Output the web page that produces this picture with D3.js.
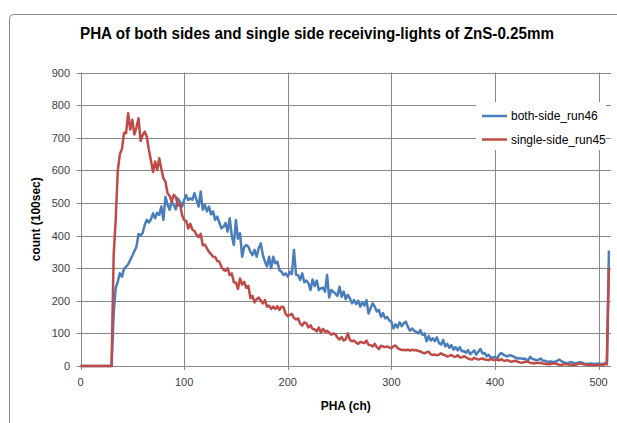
<!DOCTYPE html>
<html>
<head>
<meta charset="utf-8">
<script src="https://cdn.jsdelivr.net/npm/d3@7"></script>
<style>
  body { margin: 0; background: #fff; }
  text { font-family: "Liberation Sans", Arial, sans-serif; }
</style>
</head>
<body>
<svg id="chart" width="617" height="423"></svg>
<script>
// PHA channels (every 2nd channel)
const channels = d3.range(0, 512, 2);

const bothSide = [
    0, 0, 0, 0, 0, 0, 0, 0, 0, 0, 0, 0, 0, 0, 0, 0,
    160, 240, 259, 284, 274, 298, 305, 312, 325, 338, 352, 366, 405, 400, 408, 433,
    448, 440, 450, 468, 453, 470, 463, 489, 448, 519, 495, 479, 504, 494, 480, 514,
    504, 489, 509, 524, 509, 514, 510, 530, 509, 489, 535, 479, 494, 474, 489, 465,
    474, 448, 458, 440, 422, 427, 438, 412, 453, 400, 371, 448, 390, 407, 335, 365,
    371, 366, 350, 340, 356, 335, 361, 376, 340, 320, 305, 335, 300, 335, 315, 320,
    294, 289, 279, 284, 274, 289, 282, 356, 280, 278, 264, 284, 257, 262, 254, 233,
    265, 245, 262, 233, 238, 240, 228, 279, 210, 233, 228, 222, 215, 243, 212, 228,
    205, 218, 207, 192, 202, 190, 200, 182, 195, 185, 202, 161, 177, 192, 182, 167,
    172, 151, 162, 146, 150, 140, 136, 115, 128, 118, 134, 122, 131, 136, 120, 108,
    115, 108, 105, 100, 110, 95, 100, 76, 92, 78, 85, 76, 88, 70, 66, 80,
    60, 68, 56, 64, 50, 58, 48, 58, 45, 46, 40, 49, 36, 42, 48, 35,
    44, 52, 38, 40, 30, 34, 26, 26, 28, 22, 34, 40, 35, 32, 29, 33,
    32, 29, 26, 23, 24, 22, 23, 20, 18, 28, 22, 20, 18, 19, 23, 17,
    16, 14, 13, 14, 12, 13, 16, 20, 15, 12, 10, 8, 11, 12, 9, 8,
    10, 12, 10, 8, 7, 6, 8, 7, 6, 7, 8, 6, 6, 9, 8, 354
];

const singleSide = [
    0, 0, 0, 0, 0, 0, 0, 0, 0, 0, 0, 0, 0, 0, 0, 0,
    340, 450, 600, 650, 665, 715, 714, 775, 725, 755, 710, 732, 760, 690, 708, 719,
    703, 663, 630, 595, 627, 601, 637, 605, 576, 565, 530, 522, 504, 525, 518, 492,
    499, 463, 448, 445, 422, 436, 418, 414, 402, 395, 405, 370, 372, 361, 350, 343,
    335, 334, 322, 320, 304, 295, 292, 300, 279, 284, 257, 256, 236, 268, 250, 258,
    240, 246, 208, 215, 195, 205, 210, 200, 192, 202, 182, 185, 175, 182, 175, 183,
    172, 182, 180, 160, 153, 157, 160, 147, 143, 146, 130, 124, 134, 131, 118, 125,
    114, 112, 106, 118, 103, 114, 105, 108, 102, 96, 100, 97, 87, 81, 89, 78,
    82, 100, 80, 76, 78, 72, 68, 74, 72, 70, 78, 65, 64, 60, 68, 58,
    52, 62, 60, 58, 60, 57, 54, 60, 63, 55, 52, 49, 50, 48, 50, 47,
    50, 48, 49, 46, 45, 41, 39, 42, 44, 36, 34, 35, 33, 35, 39, 35,
    33, 29, 31, 34, 29, 28, 33, 27, 26, 30, 27, 23, 21, 20, 25, 22,
    20, 22, 23, 20, 19, 18, 22, 19, 18, 20, 17, 21, 17, 16, 18, 15,
    13, 15, 16, 13, 11, 10, 12, 13, 13, 10, 9, 8, 10, 9, 10, 8,
    7, 6, 5, 7, 8, 8, 6, 4, 3, 5, 6, 5, 4, 4, 3, 4,
    6, 8, 7, 5, 4, 4, 3, 3, 2, 3, 4, 4, 3, 5, 5, 300
];

const seriesNames = ['both-side_run46', 'single-side_run45'];
const seriesColors = ['#4a7ebb', '#be4b48'];
const xTicks = [0, 100, 200, 300, 400, 500];
const yTicks = [0, 100, 200, 300, 400, 500, 600, 700, 800, 900];

const svg = d3.select('#chart');
const plotL = 80.5, plotR = 611, plotT = 72.5, plotB = 366;

// outer chart frame (only top/left edges are inside the picture)
svg.append('rect')
    .attr('x', 9.5).attr('y', 14.5).attr('width', 640).attr('height', 430)
    .attr('rx', 4)
    .attr('fill', 'none').attr('stroke', '#868686');

const scX = d3.scaleLinear().domain([0, 512]).range([plotL, plotR]);
const scY = d3.scaleLinear().domain([0, 900]).range([plotB, plotT]);

// gridlines
svg.append('g')
    .selectAll('line')
    .data(yTicks)
    .enter()
    .append('line')
    .attr('x1', plotL - 4).attr('x2', plotR)
    .attr('y1', d => Math.round(scY(d)) + 0.5).attr('y2', d => Math.round(scY(d)) + 0.5)
    .attr('stroke', '#888');

svg.append('g')
    .selectAll('line')
    .data(xTicks)
    .enter()
    .append('line')
    .attr('x1', d => Math.round(scX(d)) + 0.5).attr('x2', d => Math.round(scX(d)) + 0.5)
    .attr('y1', plotT).attr('y2', plotB + 4)
    .attr('stroke', '#888');

// tick labels
svg.append('g')
    .selectAll('text')
    .data(yTicks)
    .enter()
    .append('text')
    .attr('x', 70).attr('y', d => scY(d) + 4)
    .attr('text-anchor', 'end')
    .attr('font-size', 11).attr('fill', '#404040')
    .text(d => d);

svg.append('g')
    .selectAll('text')
    .data(xTicks)
    .enter()
    .append('text')
    .attr('x', d => scX(d)).attr('y', 386)
    .attr('text-anchor', 'middle')
    .attr('font-size', 11).attr('fill', '#404040')
    .text(d => d);

// axis titles
svg.append('text')
    .attr('x', (plotL + plotR) / 2).attr('y', 410)
    .attr('text-anchor', 'middle')
    .attr('font-size', 12).attr('font-weight', 'bold').attr('fill', '#000')
    .text('PHA (ch)');

svg.append('text')
    .attr('transform', `translate(40,${(plotT + plotB) / 2}) rotate(-90)`)
    .attr('text-anchor', 'middle')
    .attr('font-size', 12).attr('font-weight', 'bold').attr('fill', '#000')
    .text('count (100sec)');

svg.append('text')
    .attr('x', 317).attr('y', 39)
    .attr('text-anchor', 'middle')
    .attr('font-family', 'Lato, "Open Sans", sans-serif')
    .attr('font-size', 16).attr('font-weight', 'bold').attr('fill', '#000')
    .attr('textLength', 474).attr('lengthAdjust', 'spacingAndGlyphs')
    .text('PHA of both sides and single side receiving-lights of ZnS-0.25mm');

// lines
const lineMaker = d3.line()
    .x((d, i) => scX(channels[i]))
    .y(d => scY(d));

[bothSide, singleSide].forEach((vals, k) => {
    svg.append('path')
        .attr('fill', 'none')
        .attr('stroke', seriesColors[k])
        .attr('stroke-width', 2.5)
        .attr('stroke-linejoin', 'round')
        .attr('d', lineMaker(vals));
});

// legend
const legend = svg.append('g');
legend.append('rect')
    .attr('x', 476).attr('y', 102).attr('width', 130).attr('height', 48)
    .attr('fill', '#fff');

seriesNames.forEach((name, k) => {
    const y = 116 + k * 23.5;
    legend.append('line')
        .attr('x1', 482).attr('x2', 507).attr('y1', y).attr('y2', y)
        .attr('stroke', seriesColors[k]).attr('stroke-width', 2.5);
    legend.append('text')
        .attr('x', 511).attr('y', y + 4)
        .attr('font-family', 'Lato, sans-serif')
        .attr('font-size', 12).attr('fill', '#000')
        .text(name);
});
</script>
</body>
</html>
